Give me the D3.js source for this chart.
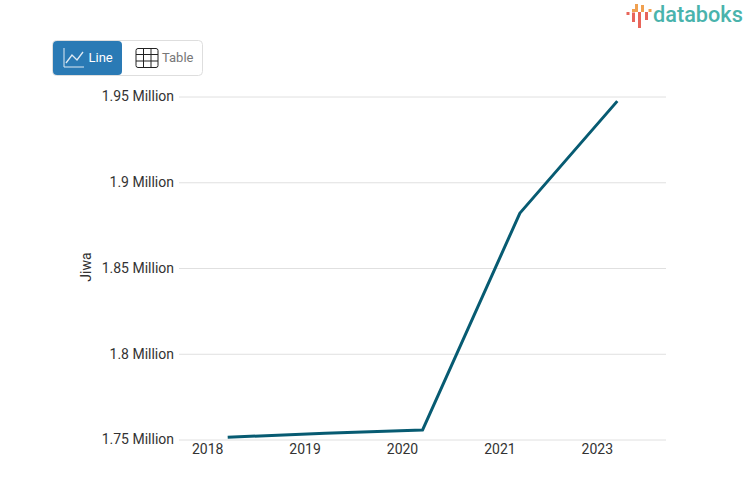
<!DOCTYPE html>
<html>
<head>
<meta charset="utf-8">
<script src="https://cdn.jsdelivr.net/npm/d3@7"></script>
<style>
  html, body { margin: 0; padding: 0; background: #fff; }
  svg { display: block; font-family: "Roboto", sans-serif; }
</style>
</head>
<body>
<div id="chart"></div>
<script>
const years = ["2018", "2019", "2020", "2021", "2023"];
const population = [1.7513, 1.7537, 1.7555, 1.882, 1.9473];
const yTicks = [1.75, 1.8, 1.85, 1.9, 1.95];
const yTickLabels = ["1.75 Million", "1.8 Million", "1.85 Million", "1.9 Million", "1.95 Million"];

const width = 753, height = 498;
const margin = { top: 96.5, right: 87, bottom: 58.5, left: 179 };

const svg = d3.select("#chart").append("svg")
  .attr("width", width)
  .attr("height", height);

const x = d3.scaleBand().domain(years).range([margin.left, width - margin.right]);
const y = d3.scaleLinear().domain([1.75, 1.95]).range([height - margin.bottom, margin.top]);

// gridlines and y labels
const yAxis = d3.axisLeft(y)
  .tickValues(yTicks)
  .tickSize(-(width - margin.left - margin.right))
  .tickFormat((d, i) => yTickLabels[i]);

// d3 axis puts its own font-family on the group, so drop it
const gy = svg.append("g")
  .attr("transform", `translate(${margin.left},0)`)
  .call(yAxis)
  .attr("font-family", null);
gy.select(".domain").remove();
gy.selectAll(".tick line").attr("stroke", "#e0e0e0");
gy.selectAll(".tick text")
  .attr("fill", "#333")
  .style("font-size", "14px")
  .attr("x", -5);

// x labels sit left of the band centres
const xAxis = d3.axisBottom(x).tickSize(0).tickPadding(5);
const gx = svg.append("g")
  .attr("transform", `translate(-20,${height - margin.bottom})`)
  .call(xAxis)
  .attr("font-family", null);
gx.select(".domain").remove();
gx.selectAll(".tick text")
  .attr("fill", "#333")
  .style("font-size", "14px");

svg.append("text")
  .attr("transform", "translate(91,267) rotate(-90)")
  .attr("text-anchor", "middle")
  .attr("fill", "#333")
  .style("font-size", "14px")
  .text("Jiwa");

const line = d3.line()
  .x((d, i) => x(years[i]) + x.bandwidth() / 2)
  .y(d => y(d));

svg.append("path")
  .datum(population)
  .attr("fill", "none")
  .attr("stroke", "#075b72")
  .attr("stroke-width", 3)
  .attr("stroke-linejoin", "round")
  .attr("d", line);

// Line / Table toggle
svg.append("rect")
  .attr("x", 52.5).attr("y", 40.5)
  .attr("width", 150).attr("height", 35).attr("rx", 4)
  .attr("fill", "#fff").attr("stroke", "#dedede");
svg.append("rect")
  .attr("x", 53).attr("y", 41)
  .attr("width", 69).attr("height", 34).attr("rx", 4)
  .attr("fill", "#2a7ab5");

const lineIcon = svg.append("g")
  .attr("fill", "none").attr("stroke", "#dfeaf3").attr("stroke-width", 1);
lineIcon.append("path").attr("d", "M64 48V67H84");
lineIcon.append("path").attr("d", "M66 63L72 55L77 60L83 52").attr("stroke-width", 1.3);
svg.append("text")
  .attr("x", 88.5).attr("y", 62)
  .attr("fill", "#fff").style("font-size", "13px").text("Line");

const tableIcon = svg.append("g")
  .attr("fill", "none").attr("stroke", "#222").attr("stroke-width", 1);
tableIcon.append("rect").attr("x", 136).attr("y", 48.5).attr("width", 22).attr("height", 19).attr("rx", 2);
[143.5, 151].forEach(v => tableIcon.append("path").attr("d", `M${v} 48.5V67.5`));
[54.5, 61].forEach(v => tableIcon.append("path").attr("d", `M136 ${v}H158`));
svg.append("text")
  .attr("x", 162).attr("y", 62)
  .attr("fill", "#777").style("font-size", "13px").text("Table");

// logo
const logo = svg.append("g").attr("stroke-width", 3);
logo.append("path").attr("stroke", "#e8655a").attr("d", "M628 12V15M633.5 12.5V22M639.5 12V28M646.5 12V20");
logo.append("path").attr("stroke", "#f0a050").attr("d", "M633.5 9V12M636.5 4V12M642.5 5V12M650 9V12");
svg.append("text")
  .attr("x", 653).attr("y", 22)
  .attr("fill", "#4ab3ac")
  .style("font-size", "21.7px")
  .style("font-weight", "500")
  .text("databoks");
</script>
</body>
</html>
